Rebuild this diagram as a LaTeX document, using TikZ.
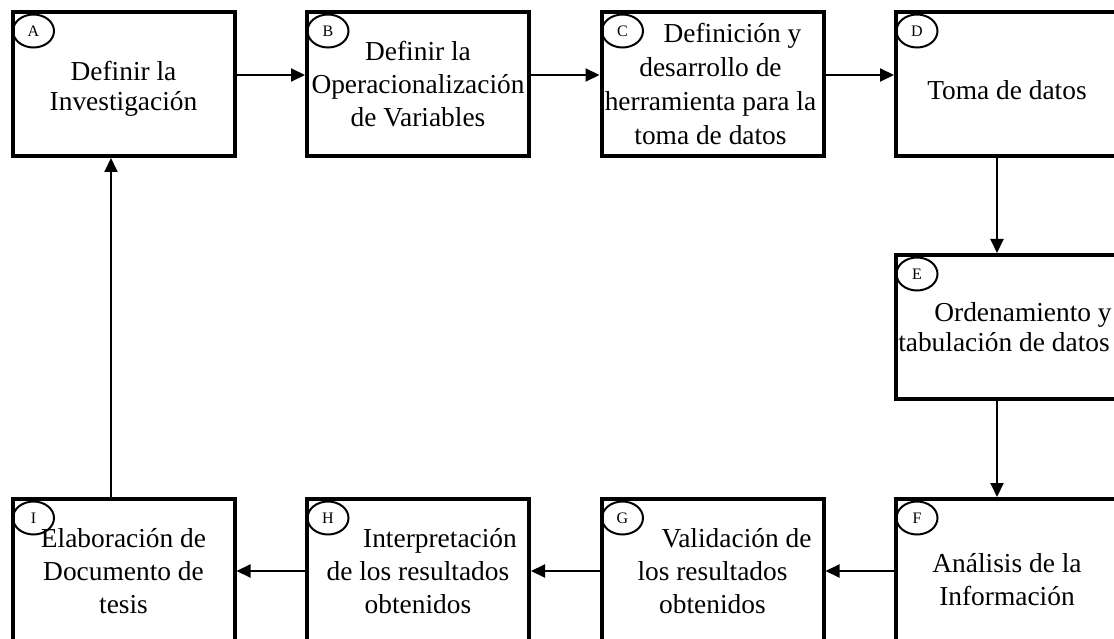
\documentclass[tikz,border=0pt]{standalone}
\usepackage{fontspec}
\setmainfont{Liberation Serif}
\usetikzlibrary{shapes.geometric,arrows.meta}
\begin{document}
\begin{tikzpicture}[x=1pt,y=-1pt,
  paso/.style={draw, line width=4pt, minimum width=222pt, minimum height=144pt, inner sep=0pt},
  texto/.style={inner sep=0pt, align=center, font=\fontsize{27.4}{33}\selectfont},
  letra/.style={draw, ellipse, line width=2pt, minimum width=41pt, minimum height=33pt, inner sep=0pt, font=\fontsize{16}{16}\selectfont},
  flecha/.style={line width=2pt, -{Triangle[length=14pt,width=13pt]}}]
\path[use as bounding box, clip] (0,0) rectangle (1114,639);
\node[paso] (pA) at (123.5,84){};
\node[paso] (pB) at (418,84){};
\node[paso] (pC) at (712.5,84){};
\node[paso] (pD) at (1007,84){};
\node[paso] (pE) at (1007,327){};
\node[paso] (pF) at (1007,571){};
\node[paso] (pG) at (712.5,571){};
\node[paso] (pH) at (418,571){};
\node[paso] (pI) at (123.5,571){};
\node[texto, font=\fontsize{27.4}{30}\selectfont] (tA) at ([yshift=-5pt]pA){Definir la\\Investigación};
\node[texto] (tB) at (pB){Definir la\\Operacionalización\\de Variables};
\node[texto, font=\fontsize{27.4}{33.7}\selectfont] (tC) at ([xshift=-2pt]pC){\hspace*{44pt}Definición y\\desarrollo de\\herramienta para la\\toma de datos};
\node[texto] (tD) at ([yshift=-6pt]pD){Toma de datos};
\node[texto, font=\fontsize{27.4}{30}\selectfont] (tE) at ([xshift=-3pt]pE){\hspace*{38pt}Ordenamiento y\\tabulación de datos};
\node[texto] (tF) at ([yshift=-9pt]pF){Análisis de la\\Información};
\node[texto] (tG) at (pG){\hspace*{48pt}Validación de\\los resultados\\obtenidos};
\node[texto] (tH) at (pH){\hspace*{44pt}Interpretación\\de los resultados\\obtenidos};
\node[texto] (tI) at (pI){Elaboración de\\Documento de\\tesis};
\node[letra] (lA) at ([xshift=23pt,yshift=-21pt]pA.north west){A};
\node[letra] (lB) at ([xshift=23pt,yshift=-21pt]pB.north west){B};
\node[letra] (lC) at ([xshift=23pt,yshift=-21pt]pC.north west){C};
\node[letra] (lD) at ([xshift=23pt,yshift=-21pt]pD.north west){D};
\node[letra] (lE) at ([xshift=23pt,yshift=-21pt]pE.north west){E};
\node[letra] (lF) at ([xshift=23pt,yshift=-21pt]pF.north west){F};
\node[letra] (lG) at ([xshift=23pt,yshift=-21pt]pG.north west){G};
\node[letra] (lH) at ([xshift=23pt,yshift=-21pt]pH.north west){H};
\node[letra] (lI) at ([xshift=23pt,yshift=-21pt]pI.north west){I};
\draw[flecha] ([yshift=9pt]pA.east) -- ([yshift=9pt]pB.west);
\draw[flecha] ([yshift=9pt]pB.east) -- ([yshift=9pt]pC.west);
\draw[flecha] ([yshift=9pt]pC.east) -- ([yshift=9pt]pD.west);
\draw[flecha] ([xshift=-10pt]pD.south) -- ([xshift=-10pt]pE.north);
\draw[flecha] ([xshift=-10pt]pE.south) -- ([xshift=-10pt]pF.north);
\draw[flecha] (pF) -- (pG);
\draw[flecha] (pG) -- (pH);
\draw[flecha] (pH) -- (pI);
\draw[flecha] ([xshift=-12.5pt]pI.north) -- ([xshift=-12.5pt]pA.south);
\end{tikzpicture}
\end{document}
